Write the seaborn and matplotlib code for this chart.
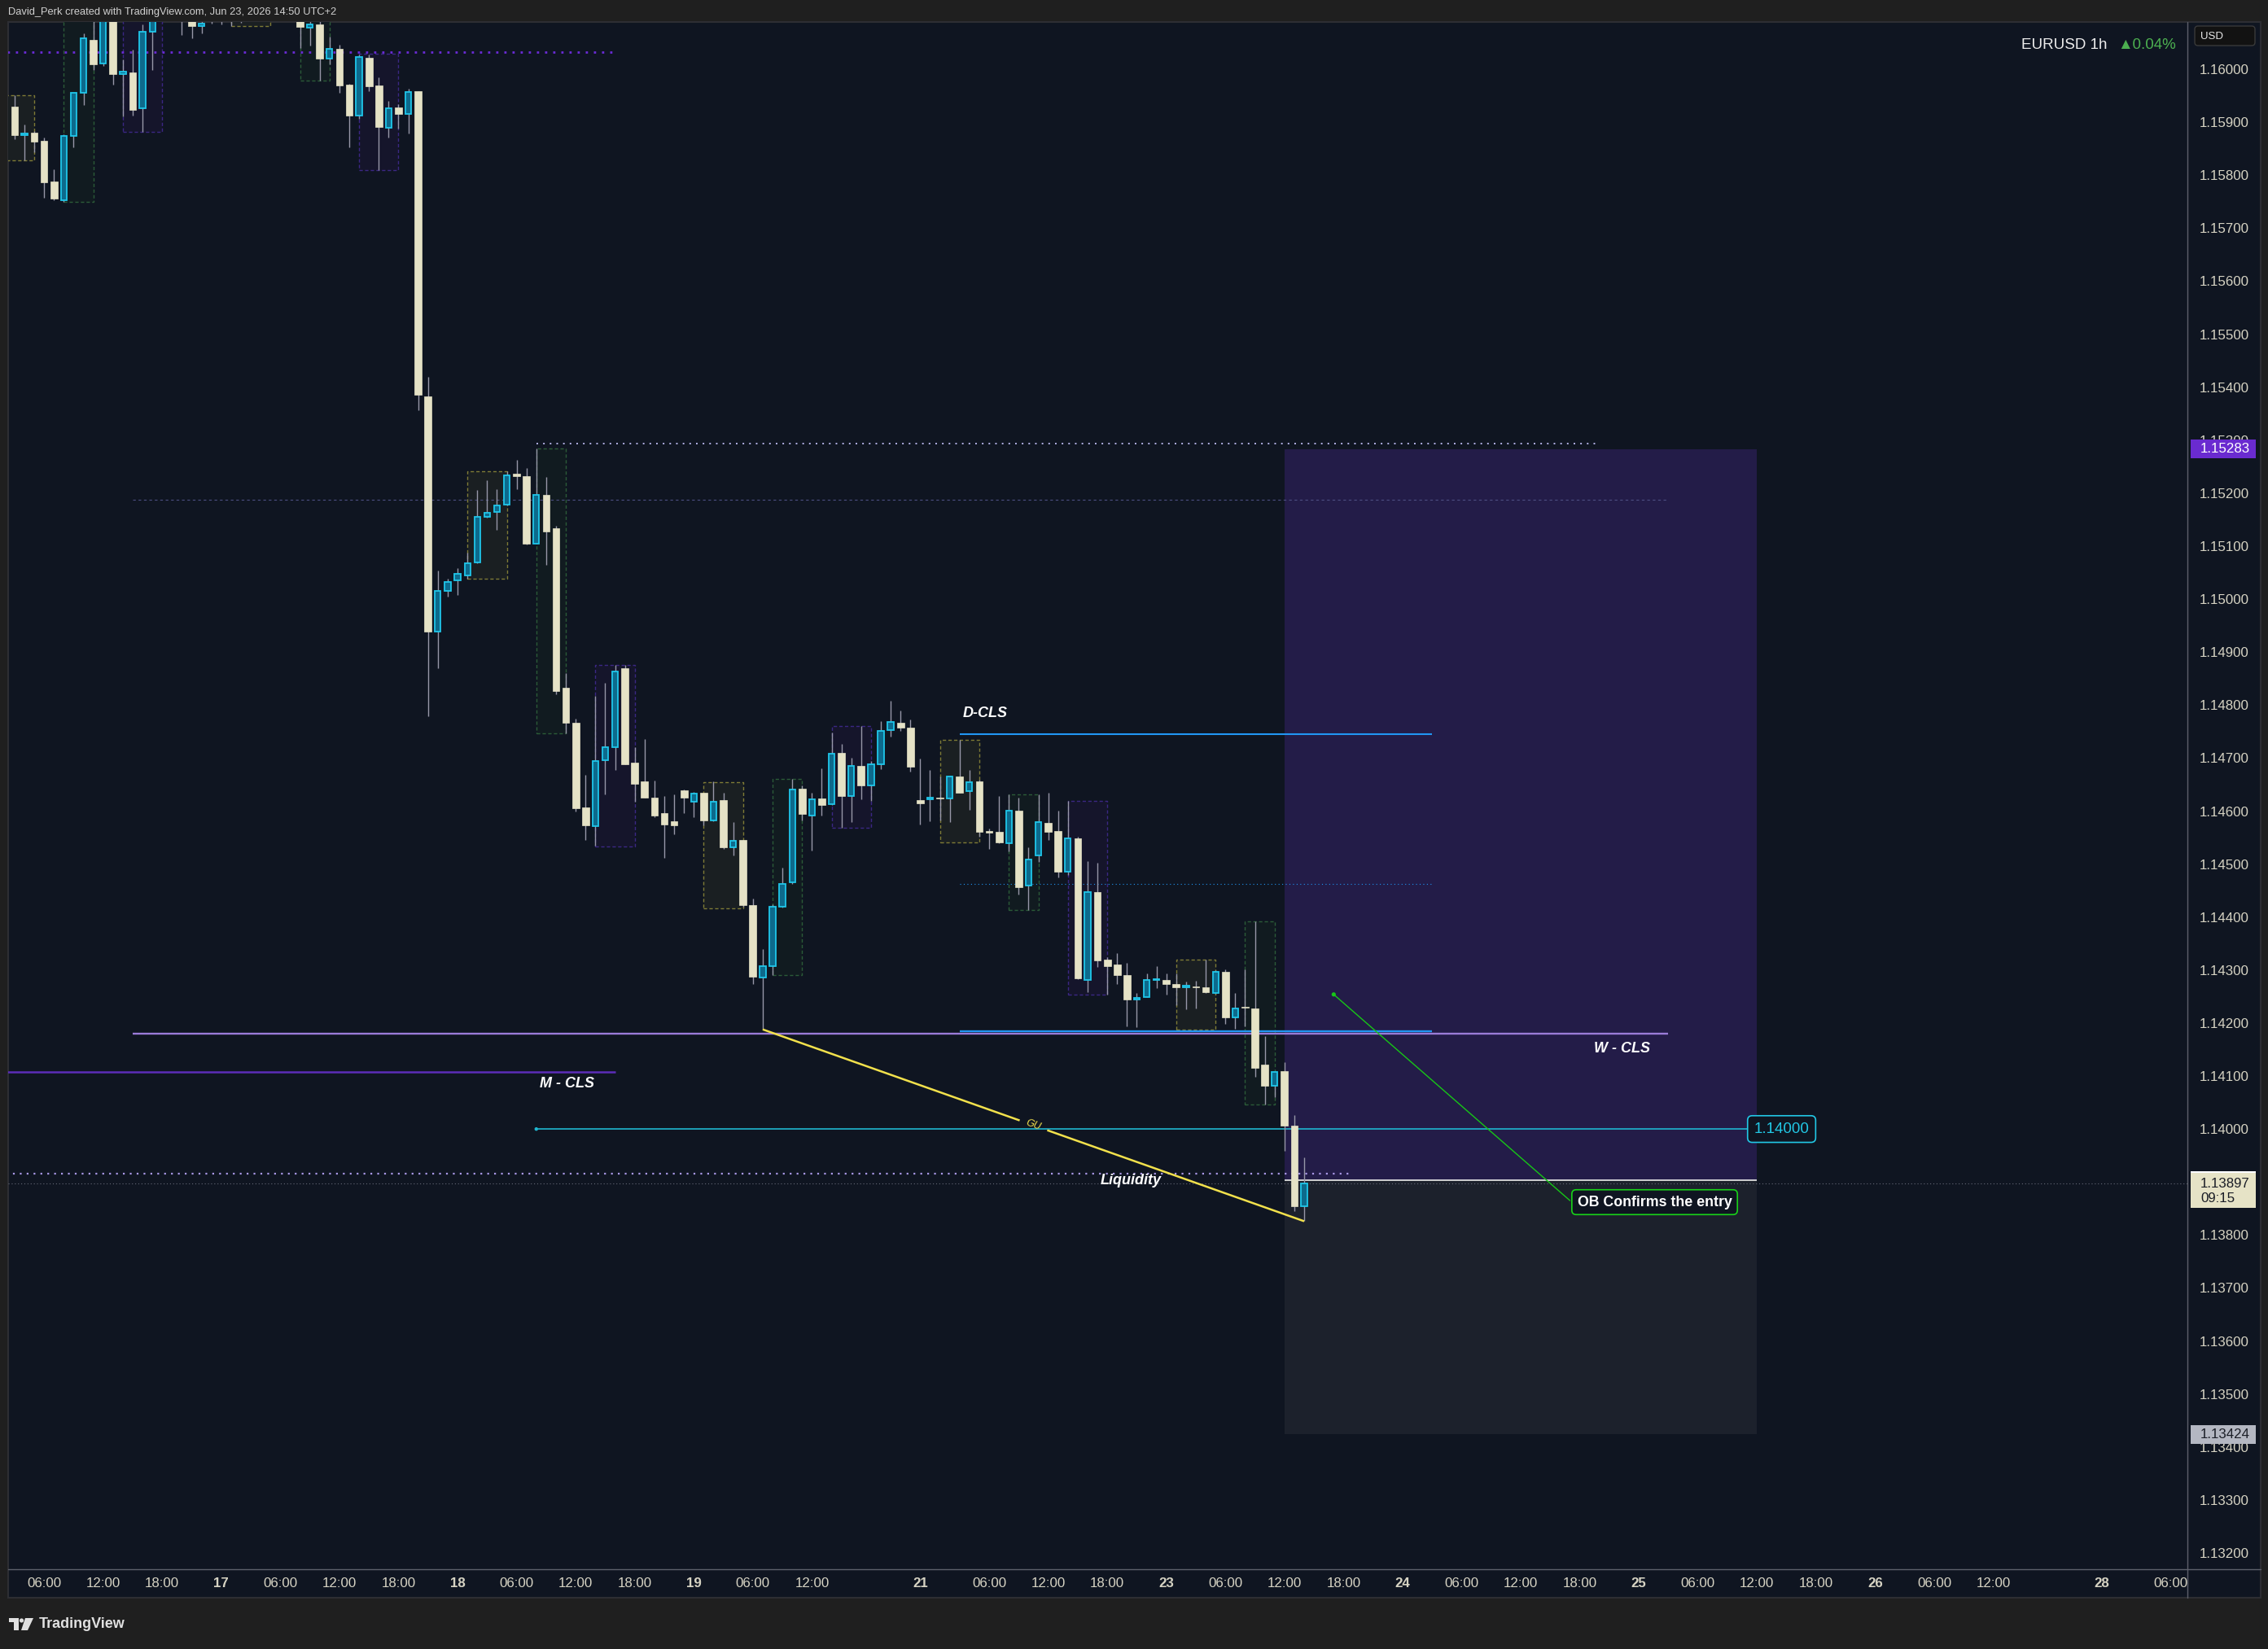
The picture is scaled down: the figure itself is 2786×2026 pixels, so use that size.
import numpy as np
import matplotlib
matplotlib.use("Agg")
import matplotlib.pyplot as plt
import matplotlib.transforms as mtransforms
from matplotlib.patches import Rectangle, Circle, Polygon, FancyBboxPatch
from matplotlib.ticker import FormatStrFormatter
import seaborn as sns

# ---------------- data (EURUSD 1h, bar index = trading hours since Jun 16 00:00) ----------------
first_bar = 3
opens = [1.15929, 1.15876, 1.15880, 1.15865, 1.15788, 1.15752, 1.15874, 1.15955, 1.16056, 1.16010,
         1.16120, 1.15991, 1.15994, 1.15926, 1.16071, 1.16120, 1.16150, 1.16130, 1.16120, 1.16081,
         1.16110, 1.16090, 1.16110, 1.16140, 1.16120, 1.16130, 1.16150, 1.16140, 1.16120, 1.16110,
         1.16079, 1.16085, 1.16020, 1.16038, 1.15971, 1.15913, 1.16022, 1.15969, 1.15890, 1.15928,
         1.15916, 1.15959, 1.15383, 1.14939, 1.15015, 1.15036, 1.15045, 1.15070, 1.15155, 1.15165,
         1.15178, 1.15237, 1.15232, 1.15104, 1.15196, 1.15134, 1.14832, 1.14767, 1.14607, 1.14572,
         1.14696, 1.14720, 1.14870, 1.14691, 1.14656, 1.14625, 1.14596, 1.14581, 1.14639, 1.14618,
         1.14634, 1.14582, 1.14621, 1.14532, 1.14546, 1.14422, 1.14286, 1.14308, 1.14419, 1.14465,
         1.14642, 1.14591, 1.14624, 1.14613, 1.14710, 1.14629, 1.14686, 1.14649, 1.14689, 1.14753,
         1.14767, 1.14757, 1.14621, 1.14622, 1.14625, 1.14624, 1.14666, 1.14637, 1.14656, 1.14563,
         1.14561, 1.14540, 1.14601, 1.14459, 1.14516, 1.14578, 1.14563, 1.14485, 1.14549, 1.14282,
         1.14447, 1.14319, 1.14311, 1.14291, 1.14245, 1.14249, 1.14281, 1.14282, 1.14274, 1.14268,
         1.14269, 1.14267, 1.14257, 1.14296, 1.14210, 1.14231, 1.14228, 1.14121, 1.14081, 1.14109,
         1.14006, 1.13855]
highs = [1.15951, 1.15895, 1.15884, 1.15871, 1.15811, 1.15877, 1.15956, 1.16068, 1.16100, 1.16150,
         1.16160, 1.16018, 1.16037, 1.16085, 1.16160, 1.16180, 1.16190, 1.16170, 1.16150, 1.16120,
         1.16140, 1.16140, 1.16160, 1.16170, 1.16160, 1.16180, 1.16190, 1.16170, 1.16150, 1.16130,
         1.16110, 1.16100, 1.16061, 1.16046, 1.15973, 1.16028, 1.16028, 1.15985, 1.15940, 1.15934,
         1.15963, 1.15959, 1.15420, 1.15054, 1.15039, 1.15058, 1.15087, 1.15206, 1.15224, 1.15208,
         1.15241, 1.15263, 1.15247, 1.15284, 1.15231, 1.15139, 1.14860, 1.14774, 1.14668, 1.14818,
         1.14842, 1.14875, 1.14875, 1.14720, 1.14736, 1.14657, 1.14628, 1.14631, 1.14641, 1.14636,
         1.14635, 1.14656, 1.14635, 1.14579, 1.14546, 1.14435, 1.14339, 1.14424, 1.14494, 1.14660,
         1.14649, 1.14635, 1.14681, 1.14748, 1.14726, 1.14701, 1.14761, 1.14694, 1.14770, 1.14808,
         1.14790, 1.14773, 1.14699, 1.14677, 1.14665, 1.14667, 1.14735, 1.14677, 1.14659, 1.14567,
         1.14628, 1.14632, 1.14625, 1.14532, 1.14631, 1.14635, 1.14601, 1.14619, 1.14551, 1.14505,
         1.14502, 1.14324, 1.14332, 1.14314, 1.14256, 1.14294, 1.14307, 1.14294, 1.14294, 1.14279,
         1.14280, 1.14319, 1.14299, 1.14301, 1.14257, 1.14301, 1.14392, 1.14176, 1.14108, 1.14126,
         1.14027, 1.13946]
lows = [1.15868, 1.15828, 1.15843, 1.15758, 1.15753, 1.15749, 1.15852, 1.15932, 1.15999, 1.16006,
        1.15971, 1.15911, 1.15913, 1.15881, 1.15999, 1.16100, 1.16110, 1.16064, 1.16059, 1.16067,
        1.16086, 1.16085, 1.16082, 1.16087, 1.16100, 1.16110, 1.16120, 1.16110, 1.16100, 1.16040,
        1.16045, 1.15979, 1.16009, 1.15956, 1.15853, 1.15906, 1.15958, 1.15810, 1.15871, 1.15888,
        1.15879, 1.15356, 1.14779, 1.14870, 1.15005, 1.15008, 1.15038, 1.15068, 1.15154, 1.15130,
        1.15177, 1.15207, 1.15103, 1.15104, 1.15065, 1.14821, 1.14747, 1.14599, 1.14545, 1.14534,
        1.14631, 1.14678, 1.14689, 1.14618, 1.14625, 1.14589, 1.14512, 1.14557, 1.14596, 1.14589,
        1.14573, 1.14581, 1.14528, 1.14517, 1.14419, 1.14273, 1.14188, 1.14291, 1.14418, 1.14463,
        1.14583, 1.14525, 1.14591, 1.14612, 1.14569, 1.14580, 1.14622, 1.14619, 1.14679, 1.14741,
        1.14752, 1.14675, 1.14575, 1.14581, 1.14582, 1.14579, 1.14635, 1.14603, 1.14552, 1.14529,
        1.14540, 1.14524, 1.14443, 1.14414, 1.14504, 1.14545, 1.14475, 1.14479, 1.14283, 1.14259,
        1.14306, 1.14254, 1.14274, 1.14194, 1.14192, 1.14249, 1.14266, 1.14254, 1.14234, 1.14226,
        1.14227, 1.14256, 1.14255, 1.14198, 1.14189, 1.14194, 1.14099, 1.14046, 1.14060, 1.13958,
        1.13845, 1.13826]
closes = [1.15875, 1.15877, 1.15864, 1.15787, 1.15756, 1.15874, 1.15955, 1.16058, 1.16009, 1.16120,
          1.15991, 1.15995, 1.15923, 1.16070, 1.16120, 1.16150, 1.16130, 1.16120, 1.16082, 1.16086,
          1.16100, 1.16110, 1.16140, 1.16120, 1.16130, 1.16150, 1.16140, 1.16120, 1.16110, 1.16080,
          1.16084, 1.16020, 1.16038, 1.15969, 1.15913, 1.16023, 1.15968, 1.15891, 1.15926, 1.15916,
          1.15957, 1.15386, 1.14939, 1.15015, 1.15032, 1.15047, 1.15068, 1.15156, 1.15163, 1.15176,
          1.15234, 1.15232, 1.15105, 1.15196, 1.15127, 1.14826, 1.14767, 1.14606, 1.14573, 1.14694,
          1.14720, 1.14863, 1.14689, 1.14652, 1.14625, 1.14591, 1.14575, 1.14573, 1.14626, 1.14633,
          1.14583, 1.14618, 1.14531, 1.14544, 1.14422, 1.14287, 1.14308, 1.14420, 1.14463, 1.14641,
          1.14594, 1.14623, 1.14611, 1.14709, 1.14629, 1.14685, 1.14648, 1.14688, 1.14752, 1.14768,
          1.14757, 1.14684, 1.14615, 1.14625, 1.14624, 1.14665, 1.14635, 1.14654, 1.14561, 1.14560,
          1.14541, 1.14601, 1.14457, 1.14509, 1.14579, 1.14561, 1.14485, 1.14548, 1.14285, 1.14447,
          1.14318, 1.14308, 1.14290, 1.14244, 1.14247, 1.14282, 1.14283, 1.14274, 1.14267, 1.14270,
          1.14267, 1.14258, 1.14296, 1.14210, 1.14228, 1.14229, 1.14116, 1.14082, 1.14108, 1.14006,
          1.13855, 1.13897]

# session boxes
box_start = [1, 8, 14, 25, 32, 38, 49, 56, 62, 73, 80, 86, 97, 104, 110, 121, 128]
box_end = [5, 11, 18, 29, 35, 42, 53, 59, 66, 77, 83, 90, 101, 107, 114, 125, 131]
box_low = [1.15828, 1.15749, 1.15881, 1.16082, 1.15979, 1.15809, 1.15038, 1.14746, 1.14533,
           1.14417, 1.14290, 1.14568, 1.14541, 1.14414, 1.14254, 1.14188, 1.14046]
box_high = [1.15951, 1.16150, 1.16190, 1.16200, 1.16130, 1.16029, 1.15242, 1.15284, 1.14875,
            1.14655, 1.14660, 1.14760, 1.14735, 1.14632, 1.14619, 1.14319, 1.14392]
box_kind = ['y', 'g', 'p', 'y', 'g', 'p', 'y', 'g', 'p', 'y', 'g', 'p', 'y', 'g', 'p', 'y', 'g']

# horizontal levels
purple_dot_level, purple_dot_span = 1.16032, (0, 64)
white_dot_level, white_dot_span = 1.15294, (56, 164)
faint_dash_level, faint_dash_span = 1.15187, (15, 171)
dcls_level, dcls_span = 1.14745, (99, 147)
blue_dot_level = 1.14463
wcls_blue_level = 1.14184
wcls_level, wcls_span = 1.14180, (15, 171)
mcls_level, mcls_span = 1.14108, (0, 64)
round_level, round_span = 1.14000, (56, 179)
lav_dot_level, lav_dot_span = 1.13916, (0, 139)
current_price = 1.13897
countdown = "09:15"

# long position tool
pos_start, pos_end = 132, 180
entry_price, target_price, stop_price = 1.13903, 1.15283, 1.13424

# liquidity trendline (from low of bar 79 to low of bar 134), label gap
liq_start_bar, liq_end_bar = 79, 134
gu_gap = (105.1, 107.9)

# OB annotation
ob_line_start = (137, 1.14254)
ob_line_end = (161, 1.13865)
ob_label_pos = (169.6, 1.13862)

# x-axis ticks
tick_pos = [6, 12, 18, 24, 30, 36, 42, 48, 54, 60, 66, 72, 78, 84, 95, 102, 108, 114, 120, 126,
            132, 138, 144, 150, 156, 162, 168, 174, 180, 186, 192, 198, 204, 215, 222]
tick_txt = ['06:00', '12:00', '18:00', '17', '06:00', '12:00', '18:00', '18', '06:00', '12:00',
            '18:00', '19', '06:00', '12:00', '21', '06:00', '12:00', '18:00', '23', '06:00',
            '12:00', '18:00', '24', '06:00', '12:00', '18:00', '25', '06:00', '12:00', '18:00',
            '26', '06:00', '12:00', '28', '06:00']
y_ticks = [1.132, 1.133, 1.134, 1.135, 1.136, 1.137, 1.138, 1.139, 1.140, 1.141, 1.142, 1.143,
           1.144, 1.145, 1.146, 1.147, 1.148, 1.149, 1.150, 1.151, 1.152, 1.153, 1.154, 1.155,
           1.156, 1.157, 1.158, 1.159, 1.160]

# ---------------- style ----------------
sns.set_theme(style="dark")
plt.rcParams['font.family'] = ['Liberation Sans', 'DejaVu Sans']

NAVY = '#0f1521'
OUTER = '#1f1f1f'
CREAM = '#e5e2c6'
UPFILL = '#0d6a8c'
UPEDGE = '#1fc6ea'
WICK = '#9797a8'
LABEL = '#d6d3c3'
box_fill = {'y': '#1a1f22', 'g': '#111b20', 'p': '#15152b'}
box_edge = {'y': '#7f7b36', 'g': '#2b5b38', 'p': '#3b2784'}

W, H = 2786, 2026
fig = plt.figure(figsize=(W / 100, H / 100), dpi=100)
fig.patch.set_facecolor(OUTER)

# background canvas in pixel units
bg = fig.add_axes([0, 0, 1, 1], zorder=0)
bg.set_xlim(0, W)
bg.set_ylim(H, 0)
bg.axis('off')
bg.add_patch(Rectangle((10, 27), 2767, 1936, facecolor=NAVY, edgecolor='#2d2e33', lw=1.5))
bg.plot([2687, 2687], [27, 1963], color='#5d606b', lw=1)
bg.plot([10, 2777], [1928, 1928], color='#5d606b', lw=1)
bg.text(10, 15, "David_Perk created with TradingView.com, Jun 23, 2026 14:50 UTC+2",
        fontsize=9.3, color='#d0d0d0', va='center', ha='left')
# TradingView logo
bg.add_patch(Rectangle((11, 1988), 11, 5, facecolor='#e0e0e0', lw=0))
bg.add_patch(Rectangle((17, 1988), 5.5, 15, facecolor='#e0e0e0', lw=0))
bg.add_patch(Circle((26.5, 1991), 2.6, facecolor='#e0e0e0', lw=0))
bg.add_patch(Polygon([(31, 1988), (41, 1988), (34, 2003), (26, 2003)], closed=True,
                     facecolor='#e0e0e0', lw=0))
bg.text(48, 1995.5, "TradingView", fontsize=13, fontweight='bold', color='#e0e0e0',
        va='center', ha='left')
# USD badge
bg.add_patch(FancyBboxPatch((2696, 32), 74, 24, boxstyle="round,pad=0,rounding_size=4",
                            facecolor='#121212', edgecolor='#3a3a3a', lw=1))
bg.text(2703, 44.5, "USD", fontsize=9.5, color='#e8e8e8', va='center', ha='left')
# title
bg.text(2483, 55, "EURUSD 1h", fontsize=13.5, color='#ececec', va='center', ha='left')
bg.text(2601, 55, "\u25B20.04%", fontsize=13.5, color='#4caf50', va='center', ha='left')

# main chart axes
ax = fig.add_axes([10 / W, (H - 1928) / H, 2677 / W, 1901 / H], zorder=1)
ax.set_facecolor('none')
ax.set_autoscale_on(False)
XLIM = (2.35, 223.72)
YLIM = (1.131693, 1.160891)
ax.set_xlim(*XLIM)
ax.set_ylim(*YLIM)
for s in ax.spines.values():
    s.set_visible(False)
ax.grid(False)

# session boxes
for s, e, lo, hi, k in zip(box_start, box_end, box_low, box_high, box_kind):
    ax.add_patch(Rectangle((s, lo), e - s, hi - lo, facecolor=box_fill[k], edgecolor=box_edge[k],
                           lw=1.0, ls=(0, (3, 2)), zorder=1))

# position tool
ax.add_patch(Rectangle((pos_start, entry_price), pos_end - pos_start, target_price - entry_price,
                       facecolor='#231c48', edgecolor='none', zorder=1.3))
ax.add_patch(Rectangle((pos_start, stop_price), pos_end - pos_start, entry_price - stop_price,
                       facecolor='#1c212c', edgecolor='none', zorder=1.3))

# horizontal levels
ax.hlines(current_price, XLIM[0], XLIM[1], color='#666a78', lw=0.8, linestyles=(0, (1, 2.5)), zorder=2)
ax.hlines(purple_dot_level, *purple_dot_span, color='#6a2bd6', lw=2.0, linestyles=(0, (1, 2.6)), zorder=2)
ax.hlines(white_dot_level, *white_dot_span, color='#b3b2e6', lw=1.4, linestyles=(0, (1, 3.2)), zorder=2)
ax.hlines(faint_dash_level, *faint_dash_span, color='#4d4f82', lw=0.8, linestyles=(0, (3, 3)), zorder=2)
ax.hlines(dcls_level, *dcls_span, color='#2196f3', lw=1.5, zorder=2.2)
ax.hlines(blue_dot_level, *dcls_span, color='#2196f3', lw=0.8, linestyles=(0, (1, 3)), zorder=2)
ax.hlines(wcls_level, *wcls_span, color='#9a7bd8', lw=1.7, zorder=2.1)
ax.hlines(wcls_blue_level, *dcls_span, color='#2196f3', lw=1.7, zorder=2.2)
ax.hlines(mcls_level, *mcls_span, color='#5b2cb8', lw=1.8, zorder=2.1)
ax.hlines(round_level, *round_span, color='#1fb6d0', lw=1.2, zorder=2.1)
ax.hlines(lav_dot_level, *lav_dot_span, color='#a898e6', lw=1.6, linestyles=(0, (1, 2.8)), zorder=2.1)
ax.hlines(entry_price, pos_start, pos_end, color='#ececec', lw=1.2, zorder=2.3)

# liquidity trendline with label gap
o = np.array(opens); hi_ = np.array(highs); lo_ = np.array(lows); c = np.array(closes)
bars = np.arange(first_bar, first_bar + len(opens))
liq_y0 = lo_[liq_start_bar - first_bar]
liq_y1 = lo_[liq_end_bar - first_bar]
gap_y = np.interp(gu_gap, [liq_start_bar, liq_end_bar], [liq_y0, liq_y1])
ax.plot([liq_start_bar, gu_gap[0]], [liq_y0, gap_y[0]], color='#f2e14c', lw=1.8, zorder=5,
        solid_capstyle='butt')
ax.plot([gu_gap[1], liq_end_bar], [gap_y[1], liq_y1], color='#f2e14c', lw=1.8, zorder=5,
        solid_capstyle='butt')

# OB arrow line
ax.plot([ob_line_start[0], ob_line_end[0]], [ob_line_start[1], ob_line_end[1]],
        color='#17c617', lw=1.0, zorder=5)
sns.scatterplot(x=[ob_line_start[0]], y=[ob_line_start[1]], ax=ax, color='#17c617', s=14,
                edgecolor='none', zorder=6, legend=False)
sns.scatterplot(x=[round_span[0]], y=[round_level], ax=ax, color='#1fb6d0', s=10,
                edgecolor='none', zorder=6, legend=False)

# candles
up = c > o
body_lo = np.minimum(o, c)
body_h = np.maximum(np.abs(c - o), 0.00002)
ax.vlines(bars, lo_, hi_, color=WICK, lw=1.0, zorder=3)
ax.bar(bars[~up], body_h[~up], bottom=body_lo[~up], width=0.72, color=CREAM, edgecolor=CREAM,
       linewidth=0.5, zorder=4)
ax.bar(bars[up], body_h[up], bottom=body_lo[up], width=0.6, color=UPFILL, edgecolor=UPEDGE,
       linewidth=1.3, zorder=4)

# text labels
lab = dict(color='white', fontsize=13, fontweight='bold', style='italic', va='center', ha='center', zorder=7)
ax.text(101.6, 1.14785, "D-CLS", **lab)
ax.text(166.3, 1.14152, "W - CLS", **lab)
ax.text(59.1, 1.14085, "M - CLS", **lab)
ax.text(116.4, 1.13902, "Liquidity", **lab)

p0 = ax.transData.transform((liq_start_bar, liq_y0))
p1 = ax.transData.transform((liq_end_bar, liq_y1))
ang = np.degrees(np.arctan2(p1[1] - p0[1], p1[0] - p0[0]))
gu_x = 0.5 * (gu_gap[0] + gu_gap[1])
gu_y = float(np.interp(gu_x, [liq_start_bar, liq_end_bar], [liq_y0, liq_y1]))
ax.text(gu_x, gu_y, "GU", color='#f2e14c', fontsize=9, style='italic', rotation=ang,
        rotation_mode='anchor', va='center', ha='center', zorder=7)

ax.text(ob_label_pos[0], ob_label_pos[1], "OB Confirms the entry", color='white', fontsize=12.8,
        fontweight='bold', va='center', ha='center', zorder=8,
        bbox=dict(boxstyle='round,pad=0.38,rounding_size=0.3', facecolor=NAVY, edgecolor='#19d219', lw=1.2))
ax.text(182.5, round_level, "1.14000", color='#22c8e6', fontsize=13.5, fontweight='medium',
        va='center', ha='center', zorder=8,
        bbox=dict(boxstyle='round,pad=0.42,rounding_size=0.3', facecolor=NAVY, edgecolor='#22c8e6', lw=1.2))

# ticks
ax.yaxis.tick_right()
ax.set_yticks(y_ticks)
ax.yaxis.set_major_formatter(FormatStrFormatter('%.5f'))
ax.tick_params(axis='y', length=0, pad=10.5, labelsize=12.2, labelcolor=LABEL)
ax.set_xticks(tick_pos)
ax.set_xticklabels(tick_txt)
ax.tick_params(axis='x', length=0, pad=7, labelsize=12.2, labelcolor=LABEL)
for t in ax.get_xticklabels():
    if ':' not in t.get_text():
        t.set_fontweight('bold')

# price tags on the right scale
tag_tr = mtransforms.blended_transform_factory(bg.transData, ax.transData)
ppx = (YLIM[1] - YLIM[0]) / 1901.0  # price per pixel


def tag(price, up_px, down_px, face, text_color, lines, top_edge=None):
    r = Rectangle((2691, price - down_px * ppx), 80, (up_px + down_px) * ppx, transform=tag_tr,
                  facecolor=face, edgecolor='none', zorder=10, clip_on=False)
    ax.add_patch(r)
    if top_edge:
        ax.add_patch(Rectangle((2691, price + (up_px - 2) * ppx), 80, 2 * ppx, transform=tag_tr,
                               facecolor=top_edge, edgecolor='none', zorder=10.5, clip_on=False))
    for k, s in enumerate(lines):
        ax.text(2703, price - k * 18 * ppx, s, transform=tag_tr, color=text_color, fontsize=12.2,
                va='center', ha='left', zorder=11, clip_on=False)


tag(target_price, 11.5, 11.5, '#6a2bd0', 'white', ["1.15283"])
tag(current_price, 15, 30, '#e6e3c6', '#1a1d26', ["%.5f" % current_price, countdown], top_edge='#ffffff')
tag(stop_price, 11.5, 11.5, '#b4b7c2', '#1a1d26', ["1.13424"])

ax.set_xlim(*XLIM)
ax.set_ylim(*YLIM)
fig.savefig("out.png", dpi=100, facecolor=fig.get_facecolor())
